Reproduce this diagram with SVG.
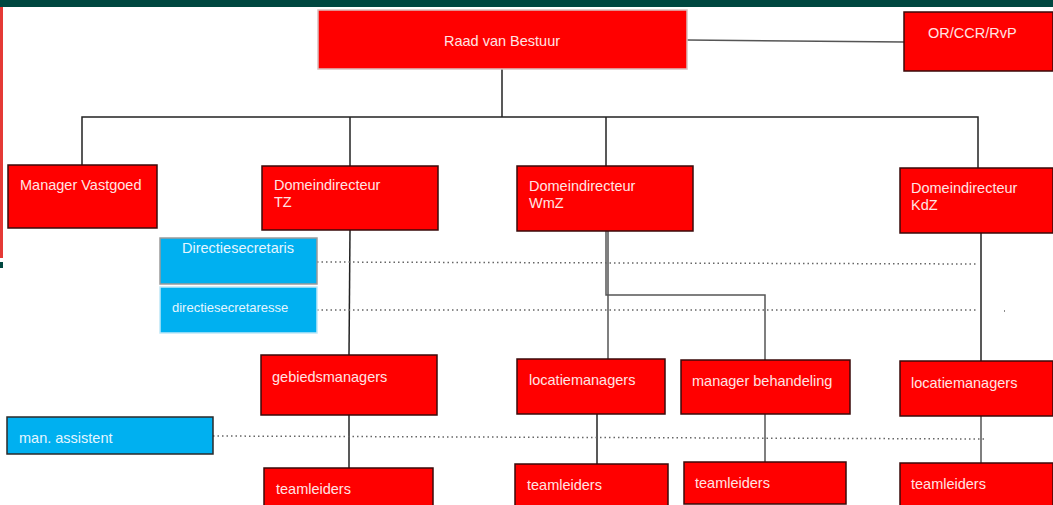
<svg xmlns="http://www.w3.org/2000/svg" width="1053" height="505" viewBox="0 0 1053 505">
<style>
.box{fill:#ff0000;stroke:#3a0a0a;stroke-width:1.5}
.boxl{fill:#ff0000;stroke:#d9c0c0;stroke-width:1.5}
.blue{fill:#00b0f0;stroke:#9a9a9a;stroke-width:1.5}
.blued{fill:#00b0f0;stroke:#2a2a2a;stroke-width:1.5}
.t{font-family:"Liberation Sans",Arial,sans-serif;font-size:14.5px;fill:#ffe4e4}
.tb{font-family:"Liberation Sans",Arial,sans-serif;font-size:14.5px;fill:#e4f6ff}
.ln{fill:none;stroke:#222;stroke-width:1.5}
.lg{fill:none;stroke:#555;stroke-width:1.5}
.dot{fill:none;stroke:#666;stroke-width:1.5;stroke-dasharray:1.5 3}
</style>
<rect x="0" y="0" width="1053" height="7" fill="#004740"/>
<rect x="0" y="7" width="3" height="251" fill="#e53935"/>
<rect x="0" y="262" width="3" height="6" fill="#004740"/>
<g id="connectors">
<path class="lg" d="M687 40 L904 42"/>
<path class="ln" d="M502 69 V117"/>
<path class="ln" d="M82 165 V117 H978 V168"/>
<path class="ln" d="M350 117 V166"/>
<path class="ln" d="M606 117 V166"/>
<path class="ln" d="M350 230 L349 355"/>
<path class="ln" d="M349 415 V468"/>
<path class="lg" d="M606 231 V295 H765 V360"/>
<path class="lg" d="M608 231 V359"/>
<path class="ln" d="M597 414 V464"/>
<path class="lg" d="M765 414 V462"/>
<path class="ln" d="M981 233 V361"/>
<path class="lg" d="M981 416 V463"/>
<path class="dot" d="M317 262 L978 264"/>
<path class="dot" d="M317 310 L978 310"/>
<path class="dot" d="M1004 311 h1"/>
<path class="dot" d="M213 436 L984 439"/>
</g>
<g id="raad"><rect class="boxl" x="318" y="10" width="369" height="59"/><text class="t" x="502" y="46" text-anchor="middle">Raad van Bestuur</text></g>
<g id="or"><rect class="box" x="904" y="12" width="149" height="59"/><text class="t" x="928" y="38">OR/CCR/RvP</text></g>
<g id="vastgoed"><rect class="box" x="8" y="165" width="149" height="63"/><text class="t" x="20" y="190">Manager Vastgoed</text></g>
<g id="tz"><rect class="box" x="262" y="166" width="176" height="64"/><text class="t" x="274" y="190">Domeindirecteur</text><text class="t" x="274" y="207">TZ</text></g>
<g id="wmz"><rect class="box" x="517" y="166" width="176" height="65"/><text class="t" x="529" y="191">Domeindirecteur</text><text class="t" x="529" y="208">WmZ</text></g>
<g id="kdz"><rect class="box" x="900" y="168" width="153" height="65"/><text class="t" x="911" y="193">Domeindirecteur</text><text class="t" x="911" y="210">KdZ</text></g>
<g id="secretaris"><rect class="blue" x="160" y="238" width="157" height="46"/><text class="tb" x="238" y="253" text-anchor="middle">Directiesecretaris</text></g>
<g id="secretaresse"><rect class="blue" x="160" y="287" width="157" height="46" style="stroke:#bfe8f8"/><text class="tb" x="172" y="312" style="font-size:13px">directiesecretaresse</text></g>
<g id="gebied"><rect class="box" x="261" y="355" width="176" height="60"/><text class="t" x="272" y="382">gebiedsmanagers</text></g>
<g id="loc1"><rect class="box" x="517" y="359" width="148" height="55"/><text class="t" x="529" y="385">locatiemanagers</text></g>
<g id="behandeling"><rect class="box" x="681" y="360" width="169" height="54"/><text class="t" x="692" y="386">manager behandeling</text></g>
<g id="loc2"><rect class="box" x="900" y="361" width="153" height="55"/><text class="t" x="911" y="388">locatiemanagers</text></g>
<g id="assistent"><rect class="blued" x="7" y="417" width="206" height="37"/><text class="tb" x="19" y="443">man. assistent</text></g>
<g id="team1"><rect class="box" x="264" y="468" width="169" height="40"/><text class="t" x="276" y="494">teamleiders</text></g>
<g id="team2"><rect class="box" x="515" y="464" width="153" height="44"/><text class="t" x="527" y="490">teamleiders</text></g>
<g id="team3"><rect class="box" x="684" y="462" width="162" height="42"/><text class="t" x="695" y="488">teamleiders</text></g>
<g id="team4"><rect class="box" x="900" y="463" width="153" height="45"/><text class="t" x="911" y="489">teamleiders</text></g>
</svg>
